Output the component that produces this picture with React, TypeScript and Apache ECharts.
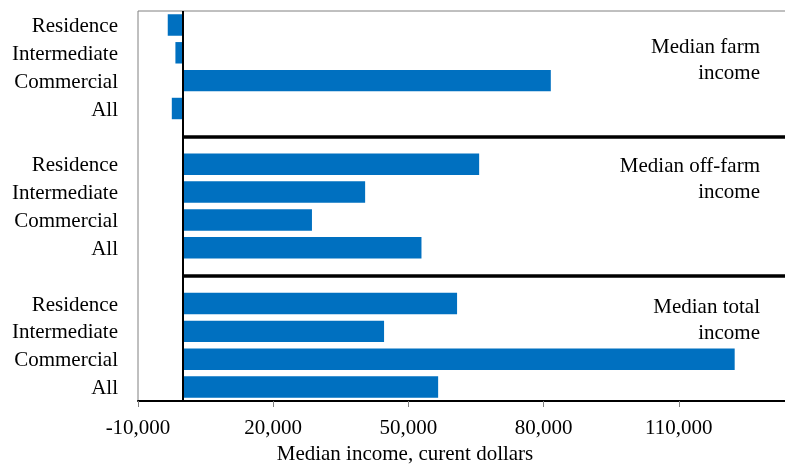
import React, { useEffect, useRef } from "react";
import * as echarts from "echarts";

const groups = ["Residence", "Intermediate", "Commercial", "All"];
const farmIncome = [-3400, -1700, 81600, -2500];
const offFarmIncome = [65700, 40400, 28600, 52900];
const totalIncome = [60800, 44600, 122400, 56600];
const panelTitles = [
  ["Median farm", "income"],
  ["Median off-farm", "income"],
  ["Median total", "income"],
];
const xMin = -10000;
const xMax = 140000;
const xInterval = 30000;
const xAxisTitle = "Median income, curent dollars";

const FONT = "'Liberation Serif', 'Times New Roman', serif";

export default function App() {
  const ref = useRef<HTMLDivElement>(null);

  useEffect(() => {
    if (!ref.current) return;
    const chart = echarts.init(ref.current, null, { renderer: "svg" });

    const panels = [
      { key: "farm", values: farmIncome },
      { key: "off", values: offFarmIncome },
      { key: "total", values: totalIncome },
    ];
    const categories: string[] = [];
    const values: (number | string)[] = [];
    panels.forEach((p, pi) => {
      groups.forEach((g, gi) => {
        categories.push(p.key + "|" + g);
        values.push(p.values[gi]);
      });
      if (pi < panels.length - 1) {
        categories.push("sep|" + pi);
        values.push("-");
      }
    });
    const seps = categories.filter((c) => c.startsWith("sep|"));

    const panelTops = [33, 152, 293];

    chart.setOption({
      animation: false,
      grid: {
        left: 138,
        top: 11,
        bottom: 63,
        right: 1,
        show: true,
        borderColor: "#808080",
        borderWidth: 1,
        containLabel: false,
      },
      xAxis: {
        type: "value",
        min: xMin,
        max: xMax,
        interval: xInterval,
        splitLine: { show: false },
        axisLine: { show: true, onZero: false, lineStyle: { color: "#000", width: 2 } },
        axisTick: { show: true, inside: false, length: 6, lineStyle: { color: "#808080", width: 1 } },
        axisLabel: {
          show: true,
          showMaxLabel: false,
          margin: 15,
          color: "#000",
          fontFamily: FONT,
          fontSize: 21,
          formatter: (v: number) => v.toLocaleString("en-US"),
        },
      },
      yAxis: {
        type: "category",
        inverse: true,
        data: categories,
        axisLine: { show: false },
        axisTick: { show: false },
        splitLine: { show: false },
        axisLabel: {
          margin: 20,
          color: "#000",
          fontFamily: FONT,
          fontSize: 21,
          interval: 0,
          formatter: (v: string) => (v.startsWith("sep|") ? "" : v.split("|")[1]),
        },
      },
      series: [
        {
          type: "bar",
          data: values,
          barCategoryGap: "23%",
          itemStyle: { color: "#0070C0" },
          markLine: {
            silent: true,
            symbol: ["none", "none"],
            label: { show: false },
            lineStyle: { color: "#000", width: 3.5, type: "solid" },
            data: seps.map((s) => [
              { xAxis: 0, yAxis: s },
              { xAxis: xMax, yAxis: s },
            ]),
          },
        },
        {
          type: "line",
          data: [],
          markLine: {
            silent: true,
            symbol: ["none", "none"],
            label: { show: false },
            lineStyle: { color: "#000", width: 2, type: "solid" },
            data: [{ xAxis: 0 }],
          },
        },
      ],
      graphic: [
        ...panelTitles.map((t, i) => ({
          type: "text",
          x: 760,
          y: panelTops[i],
          style: {
            text: t.join("\n"),
            fontFamily: FONT,
            fontSize: 21,
            lineHeight: 26,
            fill: "#000",
            align: "right",
            verticalAlign: "top",
          },
        })),
        {
          type: "text",
          x: 405,
          y: 453,
          style: {
            text: xAxisTitle,
            fontFamily: FONT,
            fontSize: 21,
            fill: "#000",
            align: "center",
            verticalAlign: "middle",
          },
        },
      ],
    });

    return () => chart.dispose();
  }, []);

  return (
    <div
      style={{
        position: "fixed",
        left: 0,
        top: 0,
        width: 785,
        height: 464,
        overflow: "hidden",
      }}
    >
      <div ref={ref} style={{ width: 815, height: 464 }} />
    </div>
  );
}
